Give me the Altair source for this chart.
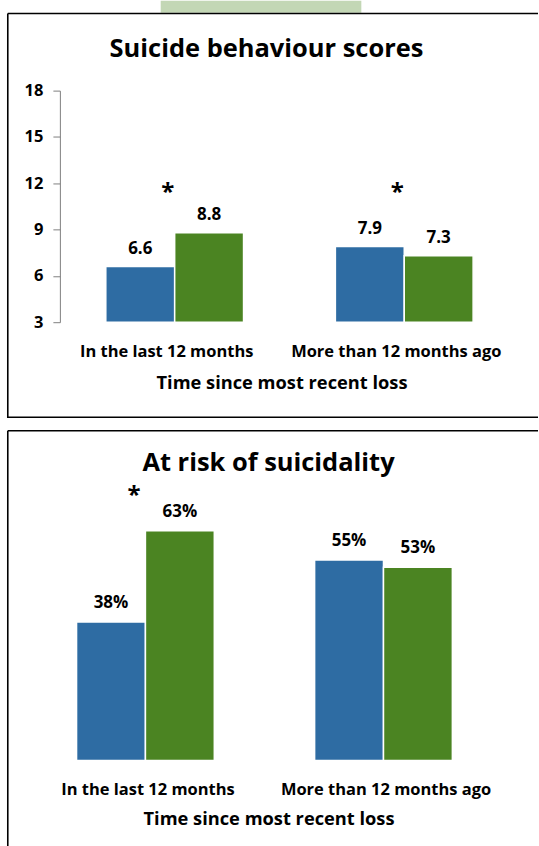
import altair as alt
import pandas as pd

# ---- data -------------------------------------------------------------
periods = ["In the last 12 months", "More than 12 months ago"]
groups = ["Group 1", "Group 2"]

score_values = [6.6, 8.8, 7.9, 7.3]          # suicide behaviour scores
risk_values = [0.38, 0.63, 0.55, 0.53]       # share at risk of suicidality

score_ticks = [3, 6, 9, 12, 15, 18]
score_floor = 3

score_sig = ["In the last 12 months", "More than 12 months ago"]
risk_sig = ["In the last 12 months"]

score_title = "Suicide behaviour scores"
risk_title = "At risk of suicidality"
x_title = "Time since most recent loss"

colors = ["#2E6CA3", "#4B8422"]

rows_p = [p for p in periods for _ in groups]
rows_g = [g for _ in periods for g in groups]
score_df = pd.DataFrame({"period": rows_p, "group": rows_g, "value": score_values})
risk_df = pd.DataFrame({"period": rows_p, "group": rows_g, "value": risk_values})

FONT = "Open Sans"
PANEL_W = 532
TOP_H = 406
BOT_H = 417
LABEL_SIZE = 16.5
VALUE_SIZE = 17
TITLE_SIZE = 25.5
AXIS_TITLE_SIZE = 18.3

color_enc = alt.Color("group:N", scale=alt.Scale(domain=groups, range=colors), legend=None)
offset_enc = alt.XOffset("group:N", scale=alt.Scale(domain=groups, paddingInner=0, paddingOuter=0))


def frame(width, height, bottom_edge):
    """Black panel outline drawn as rules (top, left and optionally bottom)."""
    one = pd.DataFrame({"k": [0]})
    layers = [
        alt.Chart(one).mark_rule(color="black", strokeWidth=1.6).encode(
            x=alt.value(0.8), x2=alt.value(width), y=alt.value(0.8), y2=alt.value(0.8)),
        alt.Chart(one).mark_rule(color="black", strokeWidth=1.6).encode(
            x=alt.value(0.8), x2=alt.value(0.8), y=alt.value(0.8), y2=alt.value(height)),
    ]
    if bottom_edge:
        layers.append(
            alt.Chart(one).mark_rule(color="black", strokeWidth=1.6).encode(
                x=alt.value(0.8), x2=alt.value(width), y=alt.value(height - 0.8), y2=alt.value(height - 0.8)))
    return layers


def heading(text, x, y):
    return alt.Chart(pd.DataFrame({"t": [text]})).mark_text(
        font=FONT, fontSize=TITLE_SIZE, fontWeight="bold", color="black", align="center", baseline="middle"
    ).encode(text="t:N", x=alt.value(x), y=alt.value(y))


def x_axis(offset, title_x, title_y, label_offset):
    return alt.Axis(
        title=x_title, orient="bottom", offset=offset, domain=False, ticks=False, tickSize=0,
        labelFont=FONT, labelFontSize=LABEL_SIZE, labelFontWeight="bold", labelColor="black",
        labelPadding=29, labelBaseline="middle", labelOffset=label_offset, labelAngle=0,
        labelLimit=0, labelOverlap=False,
        titleFont=FONT, titleFontSize=AXIS_TITLE_SIZE, titleFontWeight="bold", titleColor="black",
        titleX=title_x, titleY=title_y, titleBaseline="middle", titleAlign="center",
    )


# ---- top panel: scores -----------------------------------------------
x_top = alt.X(
    "period:N",
    sort=periods,
    scale=alt.Scale(domain=periods, range=[53, 513], paddingInner=0.4, paddingOuter=0.2),
    axis=x_axis(-96, 275, 61, -8),
)
y_top = alt.Y(
    "value:Q",
    scale=alt.Scale(domain=[3, 18], range=[310, 78], zero=False, nice=False),
    axis=alt.Axis(
        title=None, values=score_ticks, offset=-53, grid=False,
        domainColor="#7f7f7f", tickColor="#7f7f7f", tickSize=7,
        labelFont=FONT, labelFontSize=LABEL_SIZE, labelFontWeight="bold", labelColor="black",
        labelPadding=10,
    ),
)

top_bars = alt.Chart(score_df).mark_bar(stroke="white", strokeWidth=1.5).encode(
    x=x_top, xOffset=offset_enc, y=y_top, y2=alt.datum(score_floor), color=color_enc,
)

top_labels = alt.Chart(score_df).mark_text(
    font=FONT, fontSize=VALUE_SIZE, fontWeight="bold", color="black", dy=-18, baseline="middle"
).encode(
    x=x_top, xOffset=offset_enc, y=y_top,
    text=alt.Text("value:Q", format=".1f"),
)

top_stars = alt.Chart(pd.DataFrame({"period": score_sig})).mark_text(
    text="*", font=FONT, fontSize=24, fontWeight="bold", color="black", dx=-7, baseline="middle"
).encode(x=x_top, y=alt.value(181))

watermark = alt.Chart(pd.DataFrame({"k": [0]})).mark_rect(color="#C3D7B5").encode(
    x=alt.value(154), x2=alt.value(355), y=alt.value(-12), y2=alt.value(0)
)

top = alt.layer(
    watermark, top_bars, top_labels, top_stars,
    heading(score_title, 260, 36),
    *frame(PANEL_W, TOP_H, True),
).properties(width=PANEL_W, height=TOP_H)

# ---- bottom panel: risk ----------------------------------------------
x_bot = alt.X(
    "period:N",
    sort=periods,
    scale=alt.Scale(domain=periods, range=[22, 499], paddingInner=0.4, paddingOuter=0.2),
    axis=x_axis(-86, 262, 59, 0),
)
y_bot = alt.Y("value:Q", scale=alt.Scale(domain=[0, 0.7], range=[331, 75.5], nice=False), axis=None)

bot_bars = alt.Chart(risk_df).mark_bar(stroke="white", strokeWidth=1.5).encode(
    x=x_bot, xOffset=offset_enc, y=y_bot, color=color_enc,
)

bot_labels = alt.Chart(risk_df).mark_text(
    font=FONT, fontSize=VALUE_SIZE, fontWeight="bold", color="black", dy=-19, baseline="middle"
).encode(
    x=x_bot, xOffset=offset_enc, y=y_bot,
    text=alt.Text("value:Q", format=".0%"),
)

bot_stars = alt.Chart(pd.DataFrame({"period": risk_sig})).mark_text(
    text="*", font=FONT, fontSize=24, fontWeight="bold", color="black", dx=-14, baseline="middle"
).encode(x=x_bot, y=alt.value(66))

bottom = alt.layer(
    bot_bars, bot_labels, bot_stars,
    heading(risk_title, 262, 33),
    *frame(PANEL_W, BOT_H, False),
).properties(width=PANEL_W, height=BOT_H)

chart = alt.vconcat(top, bottom, spacing=11).properties(
    padding={"left": 7, "top": 0, "right": 0, "bottom": 0},
    background="white",
).configure_view(stroke=None)

chart.save("out.html", embed_options={"renderer": "svg", "actions": False})
